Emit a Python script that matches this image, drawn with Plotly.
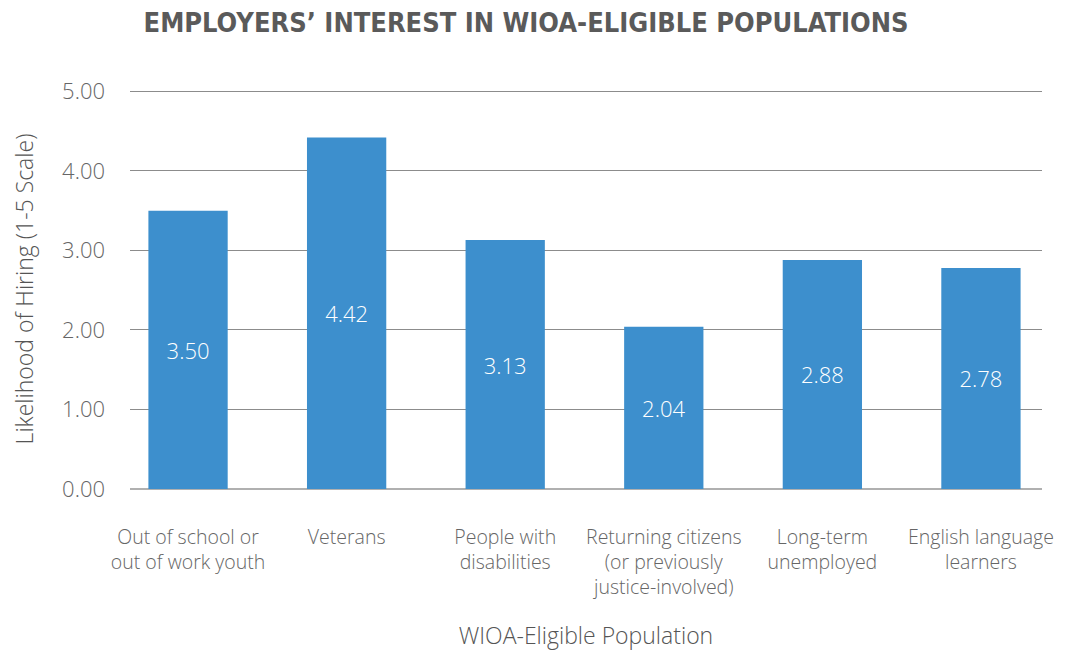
import plotly.graph_objects as go

categories = [
    "Out of school or<br>out of work youth",
    "Veterans",
    "People with<br>disabilities",
    "Returning citizens<br>(or previously<br>justice-involved)",
    "Long-term<br>unemployed",
    "English language<br>learners",
]
values = [3.50, 4.42, 3.13, 2.04, 2.88, 2.78]
tick_vals = [0, 1, 2, 3, 4, 5]
tick_text = ["0.00", "1.00", "2.00", "3.00", "4.00", "5.00"]

FONT = "'Open Sans', Lato, sans-serif"
GRAY = "#666666"

fig = go.Figure(
    go.Bar(
        x=list(range(len(categories))),
        y=values,
        width=0.5,
        marker=dict(color="#3d8fcd", line=dict(width=0)),
        text=[f"{v:.2f}" for v in values],
        textposition="inside",
        insidetextanchor="middle",
        textfont=dict(color="white", size=22, family=FONT, weight=300),
        textangle=0,
    )
)

fig.update_layout(
    width=1067,
    height=652,
    paper_bgcolor="white",
    plot_bgcolor="white",
    margin=dict(l=122, r=33, t=81, b=171),
    showlegend=False,
    title=dict(
        text="<b>EMPLOYERS’ INTEREST IN WIOA-ELIGIBLE POPULATIONS</b>",
        x=0.4855,
        xanchor="center",
        y=0.977,
        yanchor="middle",
        font=dict(family="'DejaVu Sans Condensed', 'Liberation Sans Narrow', sans-serif",
                  size=27, color="#5a5a5a"),
    ),
    xaxis=dict(
        range=[-0.366, 5.385],
        tickmode="array",
        tickvals=list(range(len(categories))),
        ticktext=categories,
        tickfont=dict(family=FONT, size=19.5, color=GRAY, weight=300),
        ticklabelstandoff=34,
        showgrid=False,
        zeroline=False,
        showline=False,
        ticks="",
        title=dict(text="WIOA-Eligible Population",
                   font=dict(family=FONT, size=23, color="#555", weight=300),
                   standoff=28),
    ),
    yaxis=dict(
        range=[0, 5.03],
        tickmode="array",
        tickvals=tick_vals,
        ticktext=tick_text,
        tickfont=dict(family=FONT, size=22, color=GRAY, weight=300),
        ticklabelstandoff=24,
        showgrid=True,
        gridcolor="#8c8c8c",
        gridwidth=1,
        zeroline=True,
        zerolinecolor="#b0b0b0",
        zerolinewidth=2,
        showline=False,
        ticks="",
        title=dict(text="Likelihood of Hiring (1-5 Scale)",
                   font=dict(family=FONT, size=23, color="#555", weight=300),
                   standoff=26),
    ),
)

fig.write_html("out.html", config={"displayModeBar": False})
